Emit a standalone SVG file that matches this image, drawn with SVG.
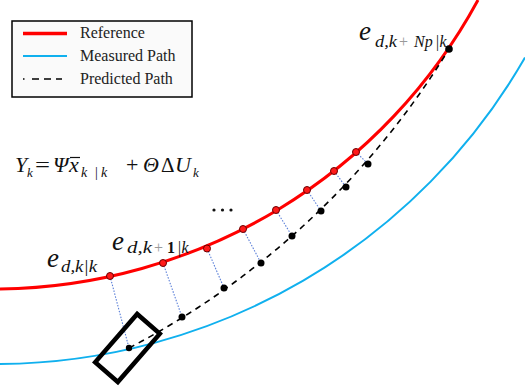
<svg xmlns="http://www.w3.org/2000/svg" width="525" height="386" viewBox="0 0 525 386">
<style>
.m{font-family:"Liberation Serif","Times New Roman",serif;fill:#111}
.i{font-style:italic}
.lg{font-family:"Liberation Serif","Times New Roman",serif;font-size:16px;fill:#222}
.rd{fill:#ff1a1a;stroke:#6b0000;stroke-width:1}
.bd{fill:#000}
.conn{stroke:#5a7fd8;stroke-width:1.1;stroke-dasharray:1.5 1.5;fill:none}
.gray{fill:#999}
</style>
<rect width="525" height="386" fill="#fff"/>
<g id="paths">
<path id="reference" d="M0 289 A552 552 0 0 0 478 0" fill="none" stroke="#ff0000" stroke-width="3"/>
<path id="measured" d="M0 364 A611.8 611.8 0 0 0 525 57.6" fill="none" stroke="#10b0ee" stroke-width="2"/>
<path id="predicted" d="M129 348 A820 820 0 0 0 449 49" fill="none" stroke="#000" stroke-width="1.6" stroke-dasharray="6 5"/>
</g>
<g id="connectors">
<line class="conn" x1="110" y1="276" x2="129" y2="348"/>
<line class="conn" x1="163" y1="263" x2="182" y2="317"/>
<line class="conn" x1="207" y1="248.5" x2="224" y2="288"/>
<line class="conn" x1="243" y1="229" x2="261" y2="263"/>
<line class="conn" x1="276" y1="210" x2="292" y2="236"/>
<line class="conn" x1="307" y1="190" x2="321" y2="211"/>
<line class="conn" x1="334" y1="171" x2="346" y2="187"/>
<line class="conn" x1="356" y1="152" x2="368" y2="164"/>
</g>
<g id="reference-points">
<circle class="rd" cx="110" cy="276" r="3.5"/>
<circle class="rd" cx="163" cy="263" r="3.5"/>
<circle class="rd" cx="207" cy="248.5" r="3.5"/>
<circle class="rd" cx="243" cy="229" r="3.5"/>
<circle class="rd" cx="276" cy="210" r="3.5"/>
<circle class="rd" cx="307" cy="190" r="3.5"/>
<circle class="rd" cx="334" cy="171" r="3.5"/>
<circle class="rd" cx="356" cy="152" r="3.5"/>
</g>
<g id="predicted-points">
<circle class="bd" cx="129" cy="348" r="3.2"/>
<circle class="bd" cx="182" cy="317" r="3.5"/>
<circle class="bd" cx="224" cy="288" r="3.5"/>
<circle class="bd" cx="261" cy="263" r="3.5"/>
<circle class="bd" cx="292" cy="236" r="3.5"/>
<circle class="bd" cx="321" cy="211" r="3.5"/>
<circle class="bd" cx="346" cy="187" r="3.5"/>
<circle class="bd" cx="368" cy="164" r="3.5"/>
<circle class="bd" cx="449" cy="49" r="3.8"/>
</g>
<g id="vehicle">
<rect x="-32" y="-15" width="64" height="30" transform="translate(127.5 348) rotate(-49)" fill="none" stroke="#000" stroke-width="4.5"/>
</g>
<g id="legend">
<rect x="12" y="21" width="180" height="76" fill="#fafafa" stroke="#000" stroke-width="1.5"/>
<line x1="23" y1="33.5" x2="67" y2="33.5" stroke="#ff0000" stroke-width="3.5"/>
<line x1="23" y1="56" x2="67" y2="56" stroke="#10b0ee" stroke-width="2"/>
<line x1="23" y1="79" x2="62" y2="79" stroke="#000" stroke-width="1.6" stroke-dasharray="1.5 7.5 7 5 7 5 7 5"/>
<text class="lg" x="80" y="38">Reference</text>
<text class="lg" x="80" y="61">Measured Path</text>
<text class="lg" x="80" y="84">Predicted Path</text>
</g>
<g id="equation">
<text class="m i" x="15" y="172" font-size="22">Y</text>
<text class="m i" x="27" y="177" font-size="13">k</text>
<text class="m" x="35" y="172" font-size="22" textLength="15" lengthAdjust="spacingAndGlyphs">=</text>
<text class="m i" x="53" y="172" font-size="22">Ψ</text>
<text class="m i" x="69" y="172" font-size="22">x</text>
<line x1="70" y1="157.5" x2="80" y2="157.5" stroke="#111" stroke-width="1.2"/>
<text class="m i" x="81" y="177" font-size="14">k</text>
<text class="m" x="95" y="177" font-size="14">|</text>
<text class="m i" x="101" y="177" font-size="14">k</text>
<text class="m" x="126" y="172" font-size="22">+</text>
<text class="m i" x="143" y="172" font-size="22">Θ</text>
<text class="m" x="161" y="172" font-size="21">Δ</text>
<text class="m i" x="175" y="172" font-size="22">U</text>
<text class="m i" x="193" y="177" font-size="13">k</text>
</g>
<g id="ellipsis">
<circle cx="214" cy="210" r="1.6" fill="#111"/>
<circle cx="222.5" cy="210" r="1.6" fill="#111"/>
<circle cx="231" cy="210" r="1.6" fill="#111"/>
</g>
<g id="label-k">
<text class="m i" x="47" y="267" font-size="27">e</text>
<text class="m i" x="61" y="272" font-size="16" textLength="36" lengthAdjust="spacingAndGlyphs">d,k|k</text>
</g>
<g id="label-k1">
<text class="m i" x="112" y="250" font-size="27">e</text>
<text class="m i" x="127" y="253" font-size="16" textLength="25" lengthAdjust="spacingAndGlyphs">d,k</text>
<text class="m gray" x="154" y="253" font-size="16">+</text>
<text class="m" x="167" y="253" font-size="16" font-weight="bold">1</text>
<text class="m i" x="177" y="253" font-size="16">|k</text>
</g>
<g id="label-np">
<text class="m i" x="359" y="40" font-size="27">e</text>
<text class="m i" x="375" y="47" font-size="16" textLength="22" lengthAdjust="spacingAndGlyphs">d,k</text>
<text class="m gray" x="399" y="47" font-size="16">+</text>
<text class="m i" x="414" y="47" font-size="16">Np</text>
<text class="m i" x="435" y="47" font-size="16">|k</text>
</g>
</svg>
